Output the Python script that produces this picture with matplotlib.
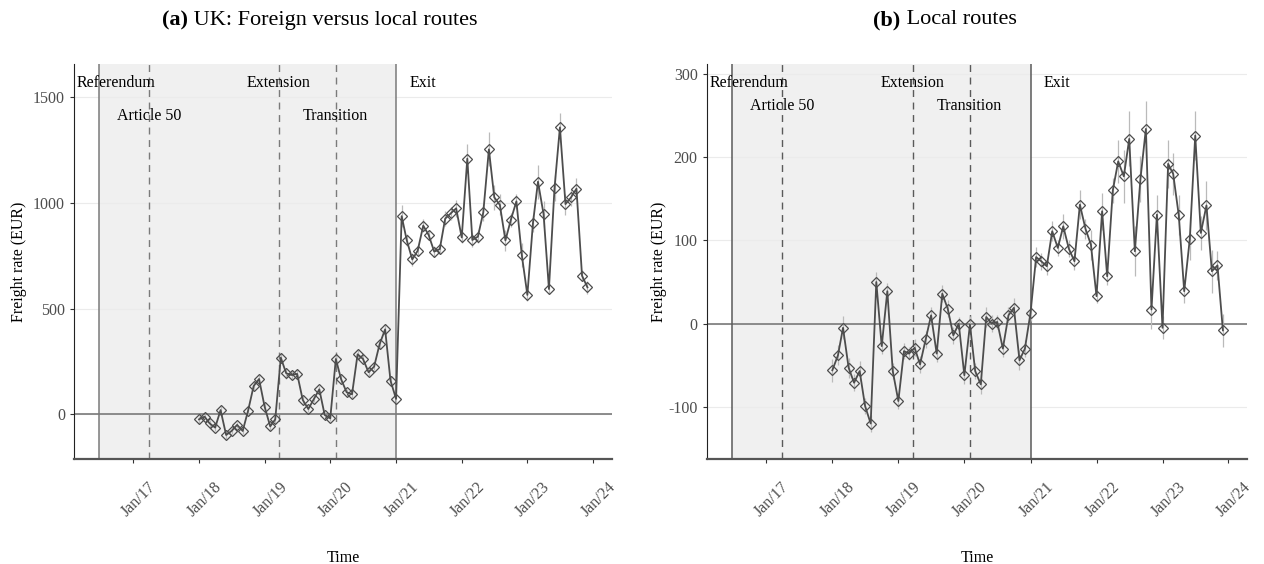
import matplotlib
matplotlib.use("Agg")
import matplotlib.pyplot as plt
import matplotlib.dates as mdates
from matplotlib.transforms import ScaledTranslation
import numpy as np
import pandas as pd

plt.rcParams['font.family'] = ['Liberation Serif', 'DejaVu Serif']
plt.rcParams['axes.unicode_minus'] = False

# monthly observations, Jan 2018 .. Dec 2023
months = pd.date_range('2018-01-01', periods=72, freq='MS')

# (a) UK: foreign versus local routes
rate_a = [-24, -11, -43, -63, 20, -98, -79, -50, -79, 17,
          134, 167, 36, -57, -24, 268, 194, 186, 191, 68,
          25, 71, 118, -3, -19, 262, 167, 104, 95, 284,
          262, 199, 226, 331, 402, 159, 73, 938, 825, 733,
          774, 893, 849, 770, 782, 926, 951, 975, 837, 1210,
          825, 841, 956, 1254, 1027, 991, 823, 920, 1008, 754,
          565, 904, 1101, 948, 593, 1071, 1358, 995, 1027, 1068,
          656, 601]
err_a = [15, 12, 15, 18, 20, 18, 15, 15, 15, 18,
         18, 20, 18, 18, 15, 22, 25, 20, 18, 18,
         15, 15, 18, 15, 15, 20, 20, 18, 18, 18,
         18, 20, 18, 22, 25, 20, 18, 51, 30, 30,
         25, 30, 25, 25, 25, 35, 30, 40, 25, 70,
         35, 30, 40, 80, 60, 50, 50, 35, 35, 55,
         30, 40, 80, 60, 25, 60, 70, 50, 40, 50,
         25, 30]

# (b) local routes
rate_b = [-56, -38, -5, -53, -71, -57, -99, -120, 50, -27,
          39, -57, -93, -33, -36, -29, -49, -19, 10, -36,
          36, 18, -14, 0, -62, -1, -57, -73, 8, 0,
          2, -30, 10, 19, -44, -30, 13, 80, 75, 69,
          111, 91, 117, 90, 75, 143, 114, 95, 33, 135,
          57, 160, 195, 177, 222, 87, 174, 234, 17, 131,
          -5, 192, 180, 130, 39, 102, 226, 109, 142, 63,
          70, -8]
err_b = [14, 12, 14, 12, 10, 12, 10, 10, 12, 10,
         10, 10, 10, 10, 8, 10, 10, 10, 10, 10,
         10, 10, 10, 8, 10, 10, 10, 12, 12, 10,
         8, 10, 10, 12, 12, 10, 10, 12, 10, 10,
         12, 10, 15, 10, 10, 17, 12, 18, 8, 22,
         10, 15, 26, 32, 33, 30, 28, 33, 24, 24,
         14, 29, 25, 24, 14, 26, 29, 20, 30, 26,
         17, 20]

events = {'Referendum': '2016-06-23', 'Article 50': '2017-03-29',
          'Extension': '2019-03-22', 'Transition': '2020-01-31',
          'Exit': '2021-01-01'}
label_dates = {'Referendum': '2016-09-25', 'Article 50': '2017-03-29',
               'Extension': '2019-03-22', 'Transition': '2020-01-31',
               'Exit': '2021-05-28'}
label_row = {'Referendum': 0, 'Article 50': 1, 'Extension': 0,
             'Transition': 1, 'Exit': 0}

W, H = 1264, 564
fig = plt.figure(figsize=(W / 100, H / 100), dpi=100)


def panel(rect, values, errors, ylim, yticks, rows, ypad, vcol):
    ax = fig.add_axes(rect)
    ev = {k: pd.Timestamp(v) for k, v in events.items()}
    ax.axvspan(ev['Referendum'], ev['Exit'], color='#f0f0f0', zorder=0, lw=0)
    for y in yticks:
        ax.axhline(y, color='#ebebeb', lw=0.8, zorder=0.5)
    ax.axhline(0, color='#7a7a7a', lw=1.2, zorder=1)
    for k in ('Referendum', 'Exit'):
        ax.axvline(ev[k], color=vcol, lw=1.1, zorder=1)
    for k in ('Article 50', 'Extension', 'Transition'):
        ax.axvline(ev[k], color=vcol, lw=1.0, ls=(0, (5, 4)), zorder=1)
    for k, d in label_dates.items():
        ax.text(pd.Timestamp(d), rows[label_row[k]], k, ha='center',
                va='center', fontsize=11.5, color='black')
    ax.vlines(months, np.array(values) - np.array(errors),
              np.array(values) + np.array(errors), color='#bababa',
              lw=0.9, zorder=2)
    ax.plot(months, values, color='#4d4d4d', lw=1.3, marker='D',
            markersize=5.5, mfc='none', mec='#4d4d4d', mew=0.9, zorder=3)

    ax.set_xlim(pd.Timestamp('2016-02-06'), pd.Timestamp('2024-04-14'))
    ax.set_ylim(*ylim)
    ax.set_yticks(yticks)
    ticks = pd.date_range('2017-01-01', '2024-01-01', freq='YS')
    ax.set_xticks(ticks)
    ax.xaxis.set_major_formatter(mdates.DateFormatter('Jan/%y'))
    ax.tick_params(axis='both', colors='#333333', labelcolor='#4d4d4d',
                   labelsize=11.5, length=3, width=0.8)
    ax.tick_params(axis='x', pad=26)
    shift = ScaledTranslation(4 / 72, 0, fig.dpi_scale_trans)
    for lab in ax.get_xticklabels():
        lab.set_rotation(45)
        lab.set_ha('center')
        lab.set_va('center')
        lab.set_rotation_mode('anchor')
        lab.set_transform(lab.get_transform() + shift)
    for s in ('top', 'right'):
        ax.spines[s].set_visible(False)
    ax.spines['left'].set_color('#222222')
    ax.spines['bottom'].set_color('#555555')
    ax.spines['bottom'].set_linewidth(1.6)
    ax.set_xlabel('Time', fontsize=11.5, labelpad=6)
    ax.set_ylabel('Freight rate (EUR)', fontsize=11.5, labelpad=ypad)
    return ax


bottom = 1 - 459.3 / H
top = 1 - 64 / H
ax1 = panel([74 / W, bottom, (611.7 - 74) / W, top - bottom], rate_a, err_a,
            (-213, 1658), [0, 500, 1000, 1500], [1568, 1412], 4, '#7a7a7a')
ax2 = panel([706.7 / W, bottom, (1247.3 - 706.7) / W, top - bottom], rate_b,
            err_b, (-163, 312), [-100, 0, 100, 200, 300], [289, 261], 1,
            '#5a5a5a')
for ax in (ax1, ax2):
    ax.xaxis.set_label_coords(0.5, -(550 - 459.3) / (459.3 - 64))


def caption(xc, tag, rest):
    r = fig.canvas.get_renderer()
    y = 1 - 20 / H
    t1 = fig.text(0, y, tag, fontsize=16, weight='bold', va='center')
    t2 = fig.text(0, y, ' ' + rest, fontsize=16, va='center')
    w1 = t1.get_window_extent(r).width
    w2 = t2.get_window_extent(r).width
    x0 = xc - (w1 + w2) / 2
    t1.set_x(x0 / W)
    t2.set_x((x0 + w1) / W)


caption(320, '(a)', 'UK: Foreign versus local routes')
caption(945, '(b)', 'Local routes')

fig.savefig('out.png', dpi=100)
